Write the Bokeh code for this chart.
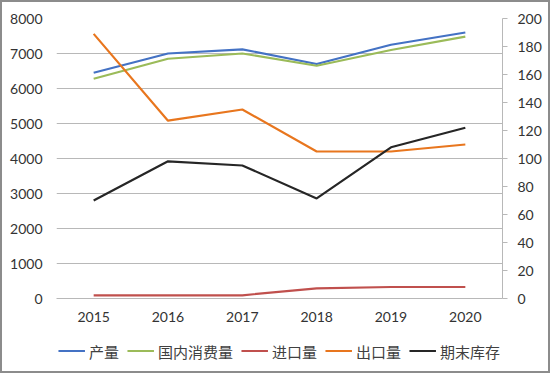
from bokeh.plotting import figure
from bokeh.layouts import column
from bokeh.models import Range1d, LinearAxis, FactorRange, FixedTicker, Legend, LegendItem
from bokeh.embed import file_html
from bokeh.resources import INLINE

years = ["2015", "2016", "2017", "2018", "2019", "2020"]
output = [6450, 7000, 7120, 6700, 7250, 7600]          # 产量 (left axis)
consumption = [6280, 6850, 7000, 6650, 7100, 7480]     # 国内消费量 (left axis)
imports = [2.3, 2.3, 2.3, 7.3, 8.2, 8.2]               # 进口量 (right axis)
exports = [189, 127, 135, 105, 105, 110]               # 出口量 (right axis)
stocks = [70, 98, 95, 71.5, 108, 122]                  # 期末库存 (right axis)
left_ticks = [0, 1000, 2000, 3000, 4000, 5000, 6000, 7000, 8000]
right_ticks = [0, 20, 40, 60, 80, 100, 120, 140, 160, 180, 200]
names = ["产量", "国内消费量", "进口量", "出口量", "期末库存"]
colors = ["#4472C4", "#9BBB59", "#C0504D", "#E8761E", "#262626"]

TICK_FONT = "Lato"
TICK_COLOR = "#333333"
GRID = "#b8b8b8"

p = figure(width=546, height=328,
           x_range=FactorRange(*years, range_padding=0),
           y_range=Range1d(0, 8000),
           output_backend="svg", toolbar_location=None,
           min_border_left=54, min_border_right=46,
           min_border_top=16, min_border_bottom=32)
p.extra_y_ranges = {"r": Range1d(0, 200)}
p.outline_line_color = None
p.background_fill_color = "white"
p.border_fill_color = "white"

# grids
p.xgrid.visible = False
p.ygrid.ticker = FixedTicker(ticks=left_ticks)
p.ygrid.grid_line_color = GRID
p.ygrid.grid_line_width = 1

# left axis
la = p.yaxis[0]
la.ticker = FixedTicker(ticks=left_ticks)
la.axis_line_color = None
la.major_tick_line_color = None
la.minor_tick_line_color = None
la.major_tick_out = 0
la.major_tick_in = 0
la.major_label_standoff = 14
la.major_label_text_font = TICK_FONT
la.major_label_text_font_size = "14px"
la.major_label_text_color = TICK_COLOR

# right axis
ra = LinearAxis(y_range_name="r", ticker=FixedTicker(ticks=right_ticks))
ra.axis_line_color = GRID
ra.major_tick_line_color = GRID
ra.minor_tick_line_color = None
ra.major_tick_out = 5
ra.major_tick_in = 0
ra.major_label_standoff = 10
ra.major_label_text_font = TICK_FONT
ra.major_label_text_font_size = "14px"
ra.major_label_text_color = TICK_COLOR
p.add_layout(ra, "right")

# bottom axis
xa = p.xaxis[0]
xa.axis_line_color = GRID
xa.major_tick_line_color = None
xa.minor_tick_line_color = None
xa.major_tick_out = 0
xa.major_tick_in = 0
xa.major_label_standoff = 13
xa.major_label_text_font = TICK_FONT
xa.major_label_text_font_size = "14px"
xa.major_label_text_color = TICK_COLOR

series = [(output, None), (consumption, None), (imports, "r"), (exports, "r"), (stocks, "r")]
for (vals, rng), c in zip(series, colors):
    if rng is None:
        p.line(years, vals, line_color=c, line_width=2.2)
    else:
        p.line(years, vals, line_color=c, line_width=2.2, y_range_name=rng)

# legend strip below the chart (sample renderers sit outside its visible range)
lg = figure(width=546, height=41,
            x_range=FactorRange(*years, range_padding=0), y_range=Range1d(-2, -1),
            output_backend="svg", toolbar_location=None,
            x_axis_location=None, y_axis_location=None,
            min_border_left=54, min_border_right=46, min_border_top=0, min_border_bottom=0)
lg.outline_line_color = None
lg.grid.visible = False
lg.background_fill_color = "white"
lg.border_fill_color = "white"
samples = [lg.line(years, vals, line_color=c, line_width=2.2)
           for (vals, _), c in zip(series, colors)]

legend = Legend(
    items=[LegendItem(label=n, renderers=[r]) for n, r in zip(names, samples)],
    orientation="horizontal", location="center",
    padding=0, margin=0, spacing=8,
    glyph_width=27, glyph_height=18, label_height=18, label_standoff=4,
    label_text_font="Noto Sans CJK SC", label_text_font_size="15px",
    label_text_color="#404040", label_text_baseline="middle",
    border_line_alpha=0, background_fill_alpha=0,
)
lg.add_layout(legend)

layout = column(p, lg, spacing=0)
layout.styles = {"border": "2px solid #8c8c8c", "background-color": "white"}

open("out.html", "w").write(file_html(layout, INLINE))
